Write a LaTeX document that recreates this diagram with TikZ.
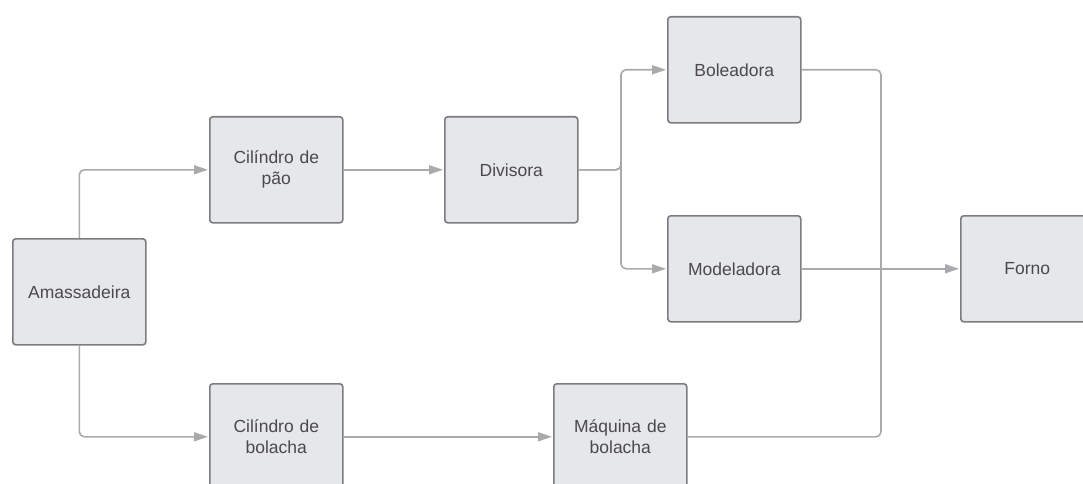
\documentclass[tikz,border=0pt]{standalone}
\usepackage{fontspec}
\setmainfont{Liberation Sans}
\usetikzlibrary{arrows.meta}
\definecolor{boxfill}{HTML}{E6E7EA}
\definecolor{boxline}{HTML}{7C7C7E}
\definecolor{wire}{HTML}{AAAAAD}
\definecolor{txt}{HTML}{4A4A4C}
\tikzset{
  stepbox/.style={draw=boxline, fill=boxfill, line width=1.6pt, rounded corners=3pt,
    minimum width=133pt, minimum height=106pt, inner sep=0pt, anchor=north west,
    text=txt, font=\fontsize{17.5}{21}\selectfont, align=center, text width=125pt},
  wire/.style={draw=wire, line width=1.6pt, rounded corners=5pt},
  arr/.style={wire, -{Triangle[length=14pt,width=9pt]}, shorten >=1pt}
}
\begin{document}
\begin{tikzpicture}[x=1pt,y=-1pt]
\useasboundingbox (0,0) rectangle (1083,484);
\clip (0,0) rectangle (1083,484);
\node[stepbox] (am) at (12,238) {Amassadeira};
\node[stepbox] (cp) at (209,116) {Cilíndro de\\pão};
\node[stepbox] (dv) at (444,116) {Divisora};
\node[stepbox] (bo) at (667,16) {Boleadora};
\node[stepbox] (mo) at (667,215) {Modeladora};
\node[stepbox] (fo) at (960,215) {Forno};
\node[stepbox] (cb) at (209,383) {Cilíndro de\\bolacha};
\node[stepbox] (mq) at (553,383) {Máquina de\\bolacha};
\coordinate (mx) at (881,0);
\coordinate (bx) at (621,0);
\draw[arr] (am.north) |- (cp.west);
\draw[arr] (am.south) |- (cb.west);
\draw[arr] (cp.east) -- (dv.west);
\draw[arr] (dv.east) -| (bx |- dv.east) |- (bo.west);
\draw[arr] (dv.east) -| (bx |- dv.east) |- (mo.west);
\draw[arr] (cb.east) -- (mq.west);
\draw[arr] (mo.east) -- (fo.west);
\draw[wire] (bo.east) -| (mx |- fo.west);
\draw[wire] (mq.east) -| (mx |- fo.west);
\end{tikzpicture}
\end{document}
